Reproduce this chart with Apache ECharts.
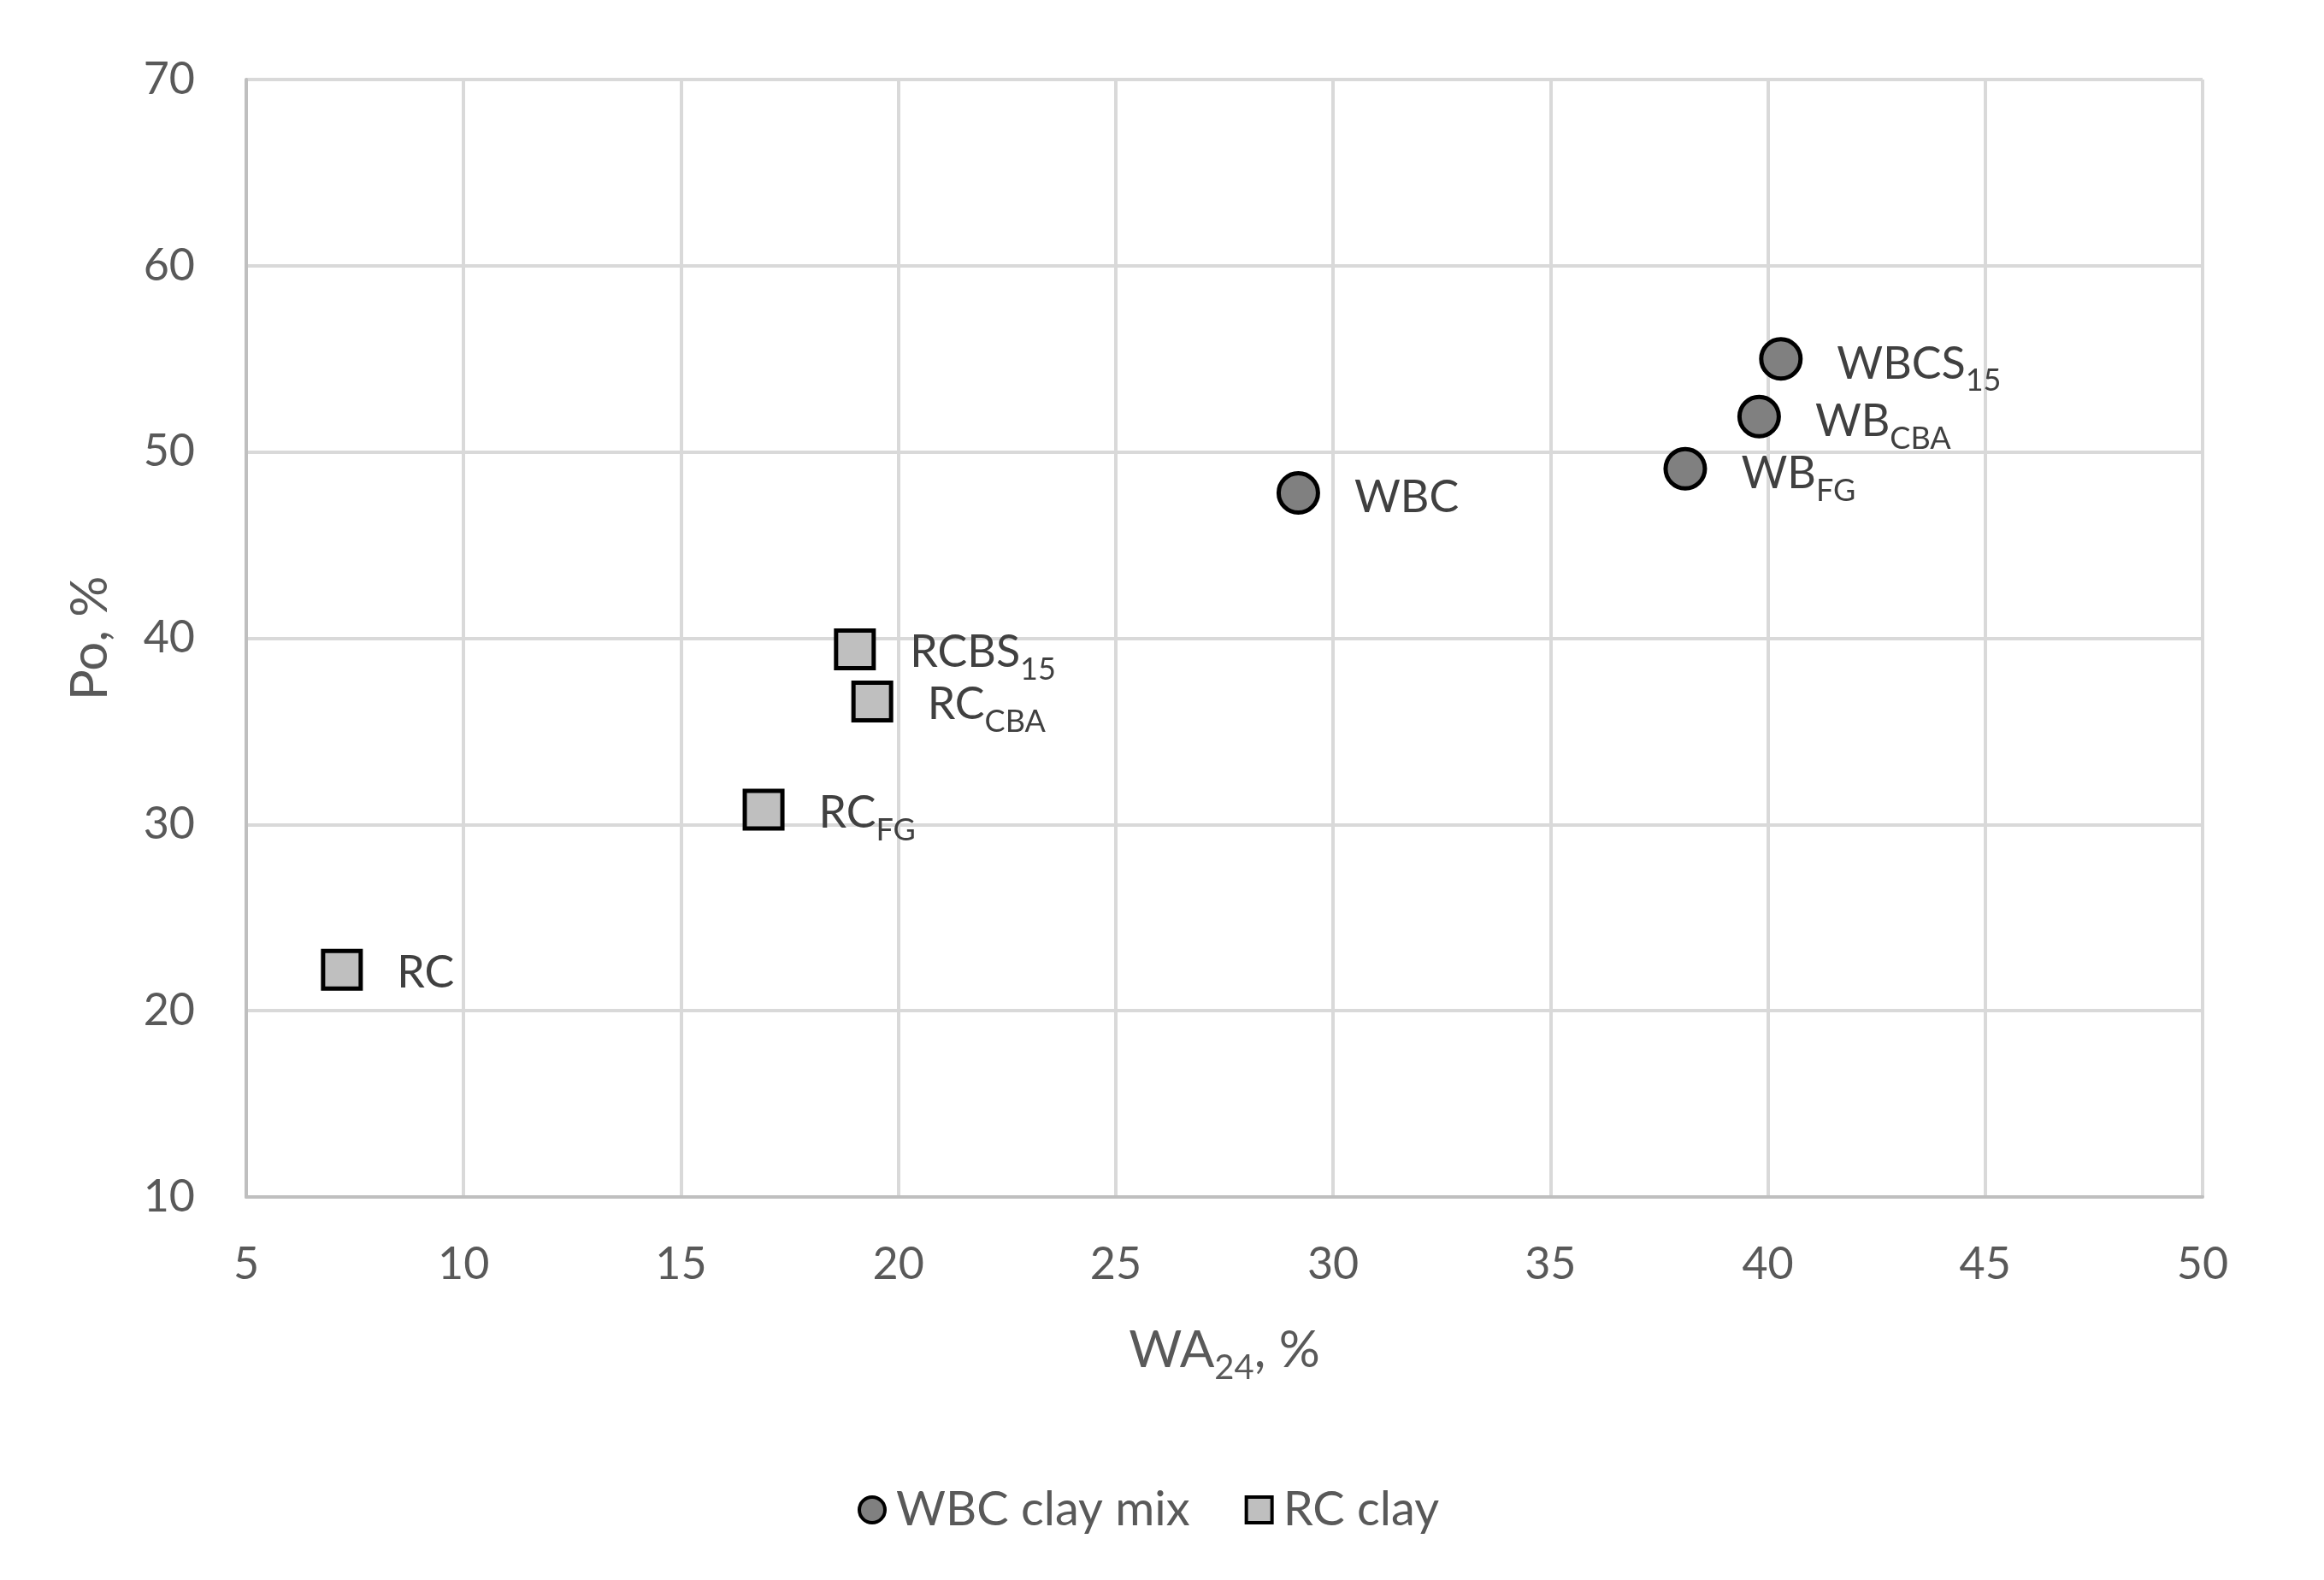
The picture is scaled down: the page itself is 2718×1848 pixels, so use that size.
<!DOCTYPE html>
<html><head><meta charset="utf-8">
<script src="https://cdn.jsdelivr.net/npm/echarts@6/dist/echarts.min.js"></script>
<style>html,body{margin:0;padding:0;background:#fff}#c{width:2718px;height:1848px}</style>
</head><body><div id="c"></div>
<script>
// ---- data ----
const wbcX = [29.2, 38.1, 39.8, 40.3];
const wbcY = [47.8, 49.1, 51.9, 55.0];
const wbcMain = ['WBC', 'WB', 'WB', 'WBCS'];
const wbcSub = ['', 'FG', 'CBA', '15'];

const rcX = [7.2, 16.9, 19.0, 19.4];
const rcY = [22.2, 30.8, 39.4, 36.6];
const rcMain = ['RC', 'RC', 'RCBS', 'RC'];
const rcSub = ['', 'FG', '15', 'CBA'];

const seriesNames = ['WBC clay mix', 'RC clay'];
const xMin = 5, xMax = 50, xStep = 5;
const yMin = 10, yMax = 70, yStep = 10;

const FONT = 'Lato';
function pts(xs, ys) { return xs.map((x, i) => [x, ys[i]]); }
function fmt(mains, subs) {
  return p => subs[p.dataIndex] ? '{m|' + mains[p.dataIndex] + '}{s|' + subs[p.dataIndex] + '}' : '{m|' + mains[p.dataIndex] + '}';
}
const labelRich = {
  m: { fontFamily: FONT, fontSize: 52, lineHeight: 52, color: '#404040' },
  s: { fontFamily: FONT, fontSize: 36, lineHeight: 36, color: '#404040', padding: [40, 0, 0, 0] }
};

const chart = echarts.init(document.getElementById('c'));
chart.setOption({
  animation: false,
  backgroundColor: '#ffffff',
  grid: { left: 288, right: 142, top: 93, bottom: 448, containLabel: false },
  xAxis: {
    type: 'value', min: xMin, max: xMax, interval: xStep,
    axisLine: { show: true, lineStyle: { color: '#bfbfbf', width: 4 } },
    axisTick: { show: false },
    splitLine: { show: true, lineStyle: { color: '#d9d9d9', width: 4 } },
    axisLabel: { fontFamily: FONT, fontSize: 52, color: '#595959', margin: 53 },
    name: '{m|WA}{s|24}{m|, %}',
    nameLocation: 'middle', nameGap: 150,
    nameTextStyle: {
      rich: {
        m: { fontFamily: FONT, fontSize: 60, lineHeight: 60, color: '#595959' },
        s: { fontFamily: FONT, fontSize: 40, lineHeight: 40, color: '#595959', padding: [40, 0, 0, 0] }
      }
    }
  },
  yAxis: {
    type: 'value', min: yMin, max: yMax, interval: yStep,
    axisLine: { show: true, lineStyle: { color: '#bfbfbf', width: 4 } },
    axisTick: { show: false },
    splitLine: { show: true, lineStyle: { color: '#d9d9d9', width: 4 } },
    axisLabel: { fontFamily: FONT, fontSize: 52, color: '#595959', margin: 60 },
    name: 'Po, %', nameLocation: 'middle', nameGap: 152, nameRotate: 90,
    nameTextStyle: { fontFamily: FONT, fontSize: 60, color: '#595959' }
  },
  legend: {
    left: 998, top: 1733,
    itemWidth: 30, itemHeight: 30, itemGap: 64,
    textStyle: { fontFamily: FONT, fontSize: 56, lineHeight: 56, color: '#595959', padding: [0, 0, 0, 8] },
    itemStyle: { borderWidth: 4 },
    data: seriesNames
  },
  series: [
    {
      name: seriesNames[0], type: 'scatter', symbol: 'circle', symbolSize: 46,
      itemStyle: { color: '#808080', borderColor: '#000000', borderWidth: 5, opacity: 1 },
      label: { show: true, position: 'right', distance: 40, offset: [0, 6], formatter: fmt(wbcMain, wbcSub), rich: labelRich },
      data: pts(wbcX, wbcY)
    },
    {
      name: seriesNames[1], type: 'scatter', symbol: 'rect', symbolSize: 44,
      itemStyle: { color: '#bfbfbf', borderColor: '#000000', borderWidth: 5, opacity: 1 },
      label: { show: true, position: 'right', distance: 40, offset: [0, 4], formatter: fmt(rcMain, rcSub), rich: labelRich },
      data: pts(rcX, rcY)
    }
  ]
});
</script></body></html>
